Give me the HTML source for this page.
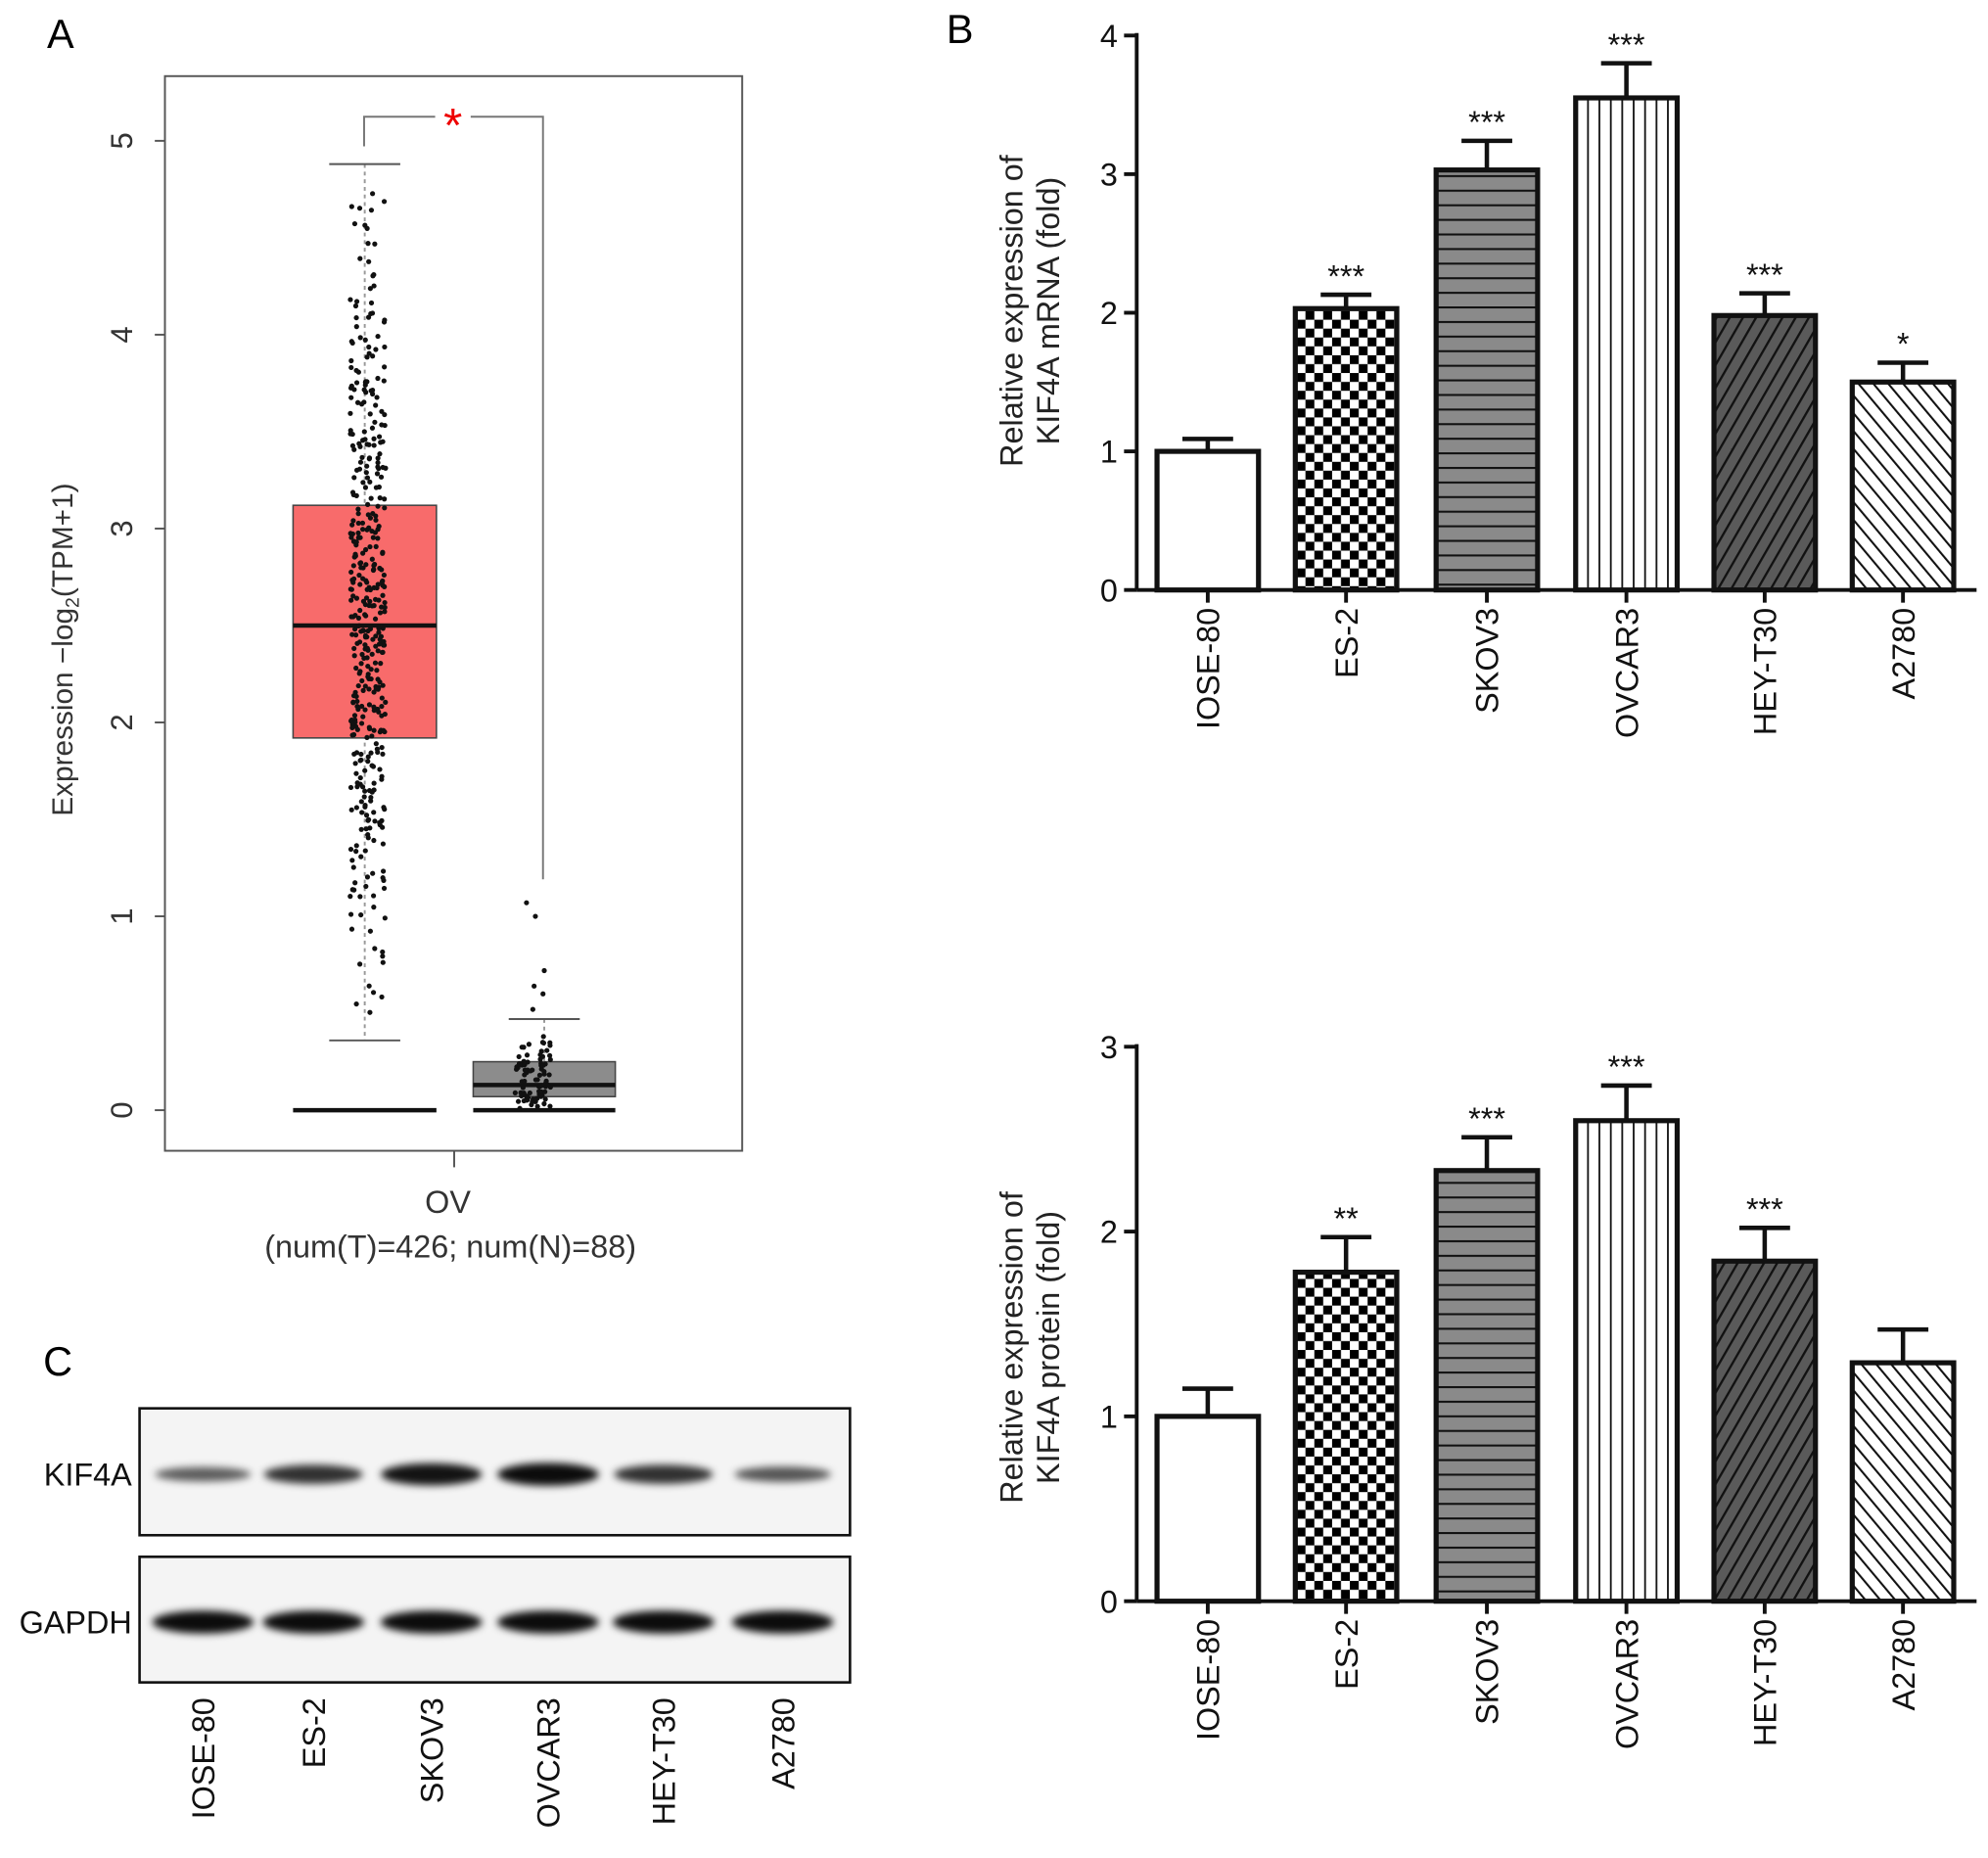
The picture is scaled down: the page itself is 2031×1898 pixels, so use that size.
<!DOCTYPE html>
<html><head><meta charset="utf-8"><style>
html,body{margin:0;padding:0;background:#fff}
svg{display:block;font-family:"Liberation Sans",Arial,sans-serif}
</style></head><body>
<svg id="fig" width="2031" height="1898" viewBox="0 0 1567 1464.4" xmlns="http://www.w3.org/2000/svg">
<defs>
<pattern id="checker" width="14" height="14" patternUnits="userSpaceOnUse"><rect width="14" height="14" fill="#fff"/><rect width="7" height="7" fill="#000"/><rect x="7" y="7" width="7" height="7" fill="#000"/></pattern>
<pattern id="hlines" width="10" height="11.5" patternUnits="userSpaceOnUse"><rect width="10" height="11.5" fill="#8a8a8a"/><rect y="0" width="10" height="1.6" fill="#111"/></pattern>
<pattern id="vlines" width="9" height="10" patternUnits="userSpaceOnUse"><rect width="9" height="10" fill="#fff"/><rect x="0" width="1.4" height="10" fill="#111"/></pattern>
<pattern id="diagDark" width="9" height="9" patternUnits="userSpaceOnUse" patternTransform="rotate(30)"><rect width="9" height="9" fill="#5a5a5a"/><rect width="1.8" height="9" fill="#111"/></pattern>
<pattern id="diagLight" width="9" height="9" patternUnits="userSpaceOnUse" patternTransform="rotate(-40)"><rect width="9" height="9" fill="#fff"/><rect width="1.6" height="9" fill="#111"/></pattern>
<filter id="blur" x="-20%" y="-100%" width="140%" height="300%"><feGaussianBlur stdDeviation="3"/></filter>
</defs>
<text x="37" y="38" font-size="32">A</text>
<text x="746" y="34" font-size="32">B</text>
<text x="34" y="1084" font-size="32">C</text>
<g id="pA"></g>
<g id="pB1"></g>
<g id="pB2"></g>
<g id="pC"></g>
</svg>
<script>
const NS="http://www.w3.org/2000/svg";
function mk(p,t,a,txt){const e=document.createElementNS(NS,t);for(const k in a)e.setAttribute(k,a[k]);if(txt!==undefined)e.textContent=txt;p.appendChild(e);return e;}

// ---- Panel A data ----
const boxTicks=[0,1,2,3,4,5];
const tumorStats=[0.36,1.92,2.5,3.12,4.88]; // whiskerLow,q1,median,q3,whiskerHigh
const normalStats=[0,0.07,0.13,0.25,0.47];
const normalOutliers=[1.07,1.0,0.72,0.64,0.6,0.52];
const sigLabel="*";
const tumorN=426, normalN=88;

// ---- Panel B data ----
const categories=["IOSE-80","ES-2","SKOV3","OVCAR3","HEY-T30","A2780"];
const mrnaValues=[1.0,2.03,3.03,3.55,1.98,1.5];
const mrnaErrors=[0.09,0.1,0.21,0.25,0.16,0.14];
const mrnaStars=["","***","***","***","***","*"];
const mrnaTicks=[0,1,2,3,4];
const protValues=[1.0,1.78,2.33,2.6,1.84,1.29];
const protErrors=[0.15,0.19,0.18,0.19,0.18,0.18];
const protStars=["","**","***","***","***",""];
const protTicks=[0,1,2,3];
const fills=["#fff","url(#checker)","url(#hlines)","url(#vlines)","url(#diagDark)","url(#diagLight)"];

// ---- Panel C data ----
const kifIntensity=[0.45,0.75,0.95,1.0,0.75,0.5];
const gapdhIntensity=[1,1,1,1,1,1];

// Panel A
(function(){
 const g=document.getElementById('pA');
 const y=v=>875-v*152.8;
 const fr=mk(g,'rect',{x:130,y:60,width:455,height:847,fill:'none',stroke:'#555','stroke-width':1.5});
 
 boxTicks.forEach(t=>{
  mk(g,'line',{x1:122,x2:130,y1:y(t),y2:y(t),stroke:'#555','stroke-width':1.5});
  const tx=mk(g,'text',{x:104,y:y(t),'font-size':24,fill:'#333','text-anchor':'middle',transform:`rotate(-90 104 ${y(t)})`},String(t));
  
 });
 const yt=mk(g,'text',{x:57,y:512,'font-size':23,fill:'#333','text-anchor':'middle',transform:'rotate(-90 57 512)'});
 
 yt.innerHTML='Expression −log<tspan font-size="15" dy="5">2</tspan><tspan dy="-5">(TPM+1)</tspan>';
 mk(g,'line',{x1:358,x2:358,y1:907,y2:920,stroke:'#555','stroke-width':1.5});
 const ov=mk(g,'text',{x:353,y:956,'font-size':25,fill:'#333','text-anchor':'middle'},'OV');
 
 const nl=mk(g,'text',{x:355,y:991,'font-size':25,fill:'#333','text-anchor':'middle'},`(num(T)=${tumorN}; num(N)=${normalN})`);
 
 function box(stats,x0,x1,fill,name){
  const cx=(x0+x1)/2;
  mk(g,'line',{x1:cx,x2:cx,y1:y(stats[4]),y2:y(stats[0]),stroke:'#999','stroke-width':1.5,'stroke-dasharray':'3 3'});
  mk(g,'line',{x1:cx-28,x2:cx+28,y1:y(stats[4]),y2:y(stats[4]),stroke:'#555','stroke-width':1.5});
  mk(g,'line',{x1:cx-28,x2:cx+28,y1:y(stats[0]),y2:y(stats[0]),stroke:'#555','stroke-width':1.5});
  const b=mk(g,'rect',{x:x0,y:y(stats[3]),width:x1-x0,height:y(stats[1])-y(stats[3]),fill:fill,stroke:'#444','stroke-width':1.2});
  
  mk(g,'line',{x1:x0,x2:x1,y1:y(stats[2]),y2:y(stats[2]),stroke:'#111','stroke-width':3.5});
 }
 box(tumorStats,231,344,'#f86b6b','tumor-box');
 box(normalStats,373,485,'#8c8c8c','normal-box');
 mk(g,'line',{x1:231,x2:344,y1:875,y2:875,stroke:'#111','stroke-width':3.5});
 mk(g,'line',{x1:373,x2:485,y1:875,y2:875,stroke:'#111','stroke-width':3.5});
 let s=12345;const rnd=()=>{s=(s*1103515245+12345)%2147483648;return s/2147483648;};
 function pts(n,stats,cx){
  for(let i=0;i<n;i++){
   let r=rnd();let v;
   if(r<0.5) v=stats[1]+(stats[3]-stats[1])*rnd();
   else if(r<0.75) v=stats[0]+(stats[1]-stats[0])*Math.sqrt(rnd());
   else v=stats[3]+(stats[4]-stats[3])*(1-Math.sqrt(rnd()));
   mk(g,'circle',{cx:cx+(rnd()-0.5)*28,cy:y(v),r:2,fill:'#111'});
  }
 }
 pts(tumorN,tumorStats,290);
 pts(normalN,normalStats,420);
 normalOutliers.forEach((v,i)=>mk(g,'circle',{cx:420+((i*7)%15)-5,cy:y(v),r:2,fill:'#111'}));
 mk(g,'path',{d:`M287 ${y(4.88)-14} V92 H343 M371 92 H428 V693`,fill:'none',stroke:'#777','stroke-width':1.5});
 const st=mk(g,'text',{x:357,y:112,'font-size':38,fill:'#e00','text-anchor':'middle'},sigLabel);
 
})();

// Panel B
function barChart(id,values,errors,stars,ticks,y0,yMaxPix,maxV,titleLines,titleY){
 const g=document.getElementById(id);
 const y=v=>y0-(v/maxV)*(y0-yMaxPix);
 const centers=[952,1061,1172,1282,1391,1500];
 const hw=40;
 mk(g,'line',{x1:896,x2:896,y1:y(maxV)-2,y2:y0,stroke:'#111','stroke-width':3});
 mk(g,'line',{x1:896,x2:1558,y1:y0,y2:y0,stroke:'#111','stroke-width':3});
 ticks.forEach(t=>{
  mk(g,'line',{x1:886,x2:896,y1:y(t),y2:y(t),stroke:'#111','stroke-width':3});
  const tx=mk(g,'text',{x:881,y:y(t)+9,'font-size':25,fill:'#111','text-anchor':'end'},String(t));
  
 });
 const yt=mk(g,'text',{x:0,y:0,'font-size':25,fill:'#222','text-anchor':'middle',transform:`translate(806 ${titleY}) rotate(-90)`});
 
 mk(yt,'tspan',{x:0,dy:0},titleLines[0]);mk(yt,'tspan',{x:0,dy:29},titleLines[1]);
 categories.forEach((c,i)=>{
  const cx=centers[i];
  const et=y(values[i]+errors[i]);
  mk(g,'line',{x1:cx,x2:cx,y1:et,y2:y(values[i]),stroke:'#111','stroke-width':3.5});
  mk(g,'line',{x1:cx-20,x2:cx+20,y1:et,y2:et,stroke:'#111','stroke-width':3.5});
  const b=mk(g,'rect',{x:cx-hw,y:y(values[i]),width:hw*2,height:y0-y(values[i]),fill:fills[i],stroke:'#111','stroke-width':4});
  
  if(stars[i]){const s=mk(g,'text',{x:cx,y:et-6,'font-size':25,fill:'#111','text-anchor':'middle'},stars[i]);
   }
  mk(g,'line',{x1:cx,x2:cx,y1:y0,y2:y0+10,stroke:'#111','stroke-width':3});
  const lt=mk(g,'text',{x:0,y:0,'font-size':25,fill:'#111','text-anchor':'end',transform:`translate(${cx+9} ${y0+14}) rotate(-90)`},c);
  
 });
}
barChart('pB1',mrnaValues,mrnaErrors,mrnaStars,mrnaTicks,465,28,4,["Relative expression of","KIF4A mRNA (fold)"],245);
barChart('pB2',protValues,protErrors,protStars,protTicks,1262,825,3,["Relative expression of","KIF4A protein (fold)"],1062);

// Panel C
(function(){
 const g=document.getElementById('pC');
 const lanes=[160,247,340,432,523,617];
 function blot(y0,h,intens,label,name){
  const r=mk(g,'rect',{x:110,y:y0,width:560,height:h,fill:'#f4f4f4',stroke:'#111','stroke-width':2});
  
  const cy=y0+h/2+2;
  lanes.forEach((lx,i)=>{
   const b=mk(g,'ellipse',{cx:lx,cy:cy,rx:36+intens[i]*4,ry:3+intens[i]*6,fill:'#000','fill-opacity':0.35+intens[i]*0.6,filter:'url(#blur)'});
   
  });
  const t=mk(g,'text',{x:104,y:cy+9,'font-size':25,fill:'#111','text-anchor':'end'},label);
  
 }
 blot(1110,100,kifIntensity,'KIF4A','kif4a-blot');
 blot(1227,99,gapdhIntensity,'GAPDH','gapdh-blot');
 categories.forEach((c,i)=>{
  const t=mk(g,'text',{x:0,y:0,'font-size':25,fill:'#111','text-anchor':'end',transform:`translate(${lanes[i]+9} 1338) rotate(-90)`},c);
  
 });
})();
</script>
</body></html>
